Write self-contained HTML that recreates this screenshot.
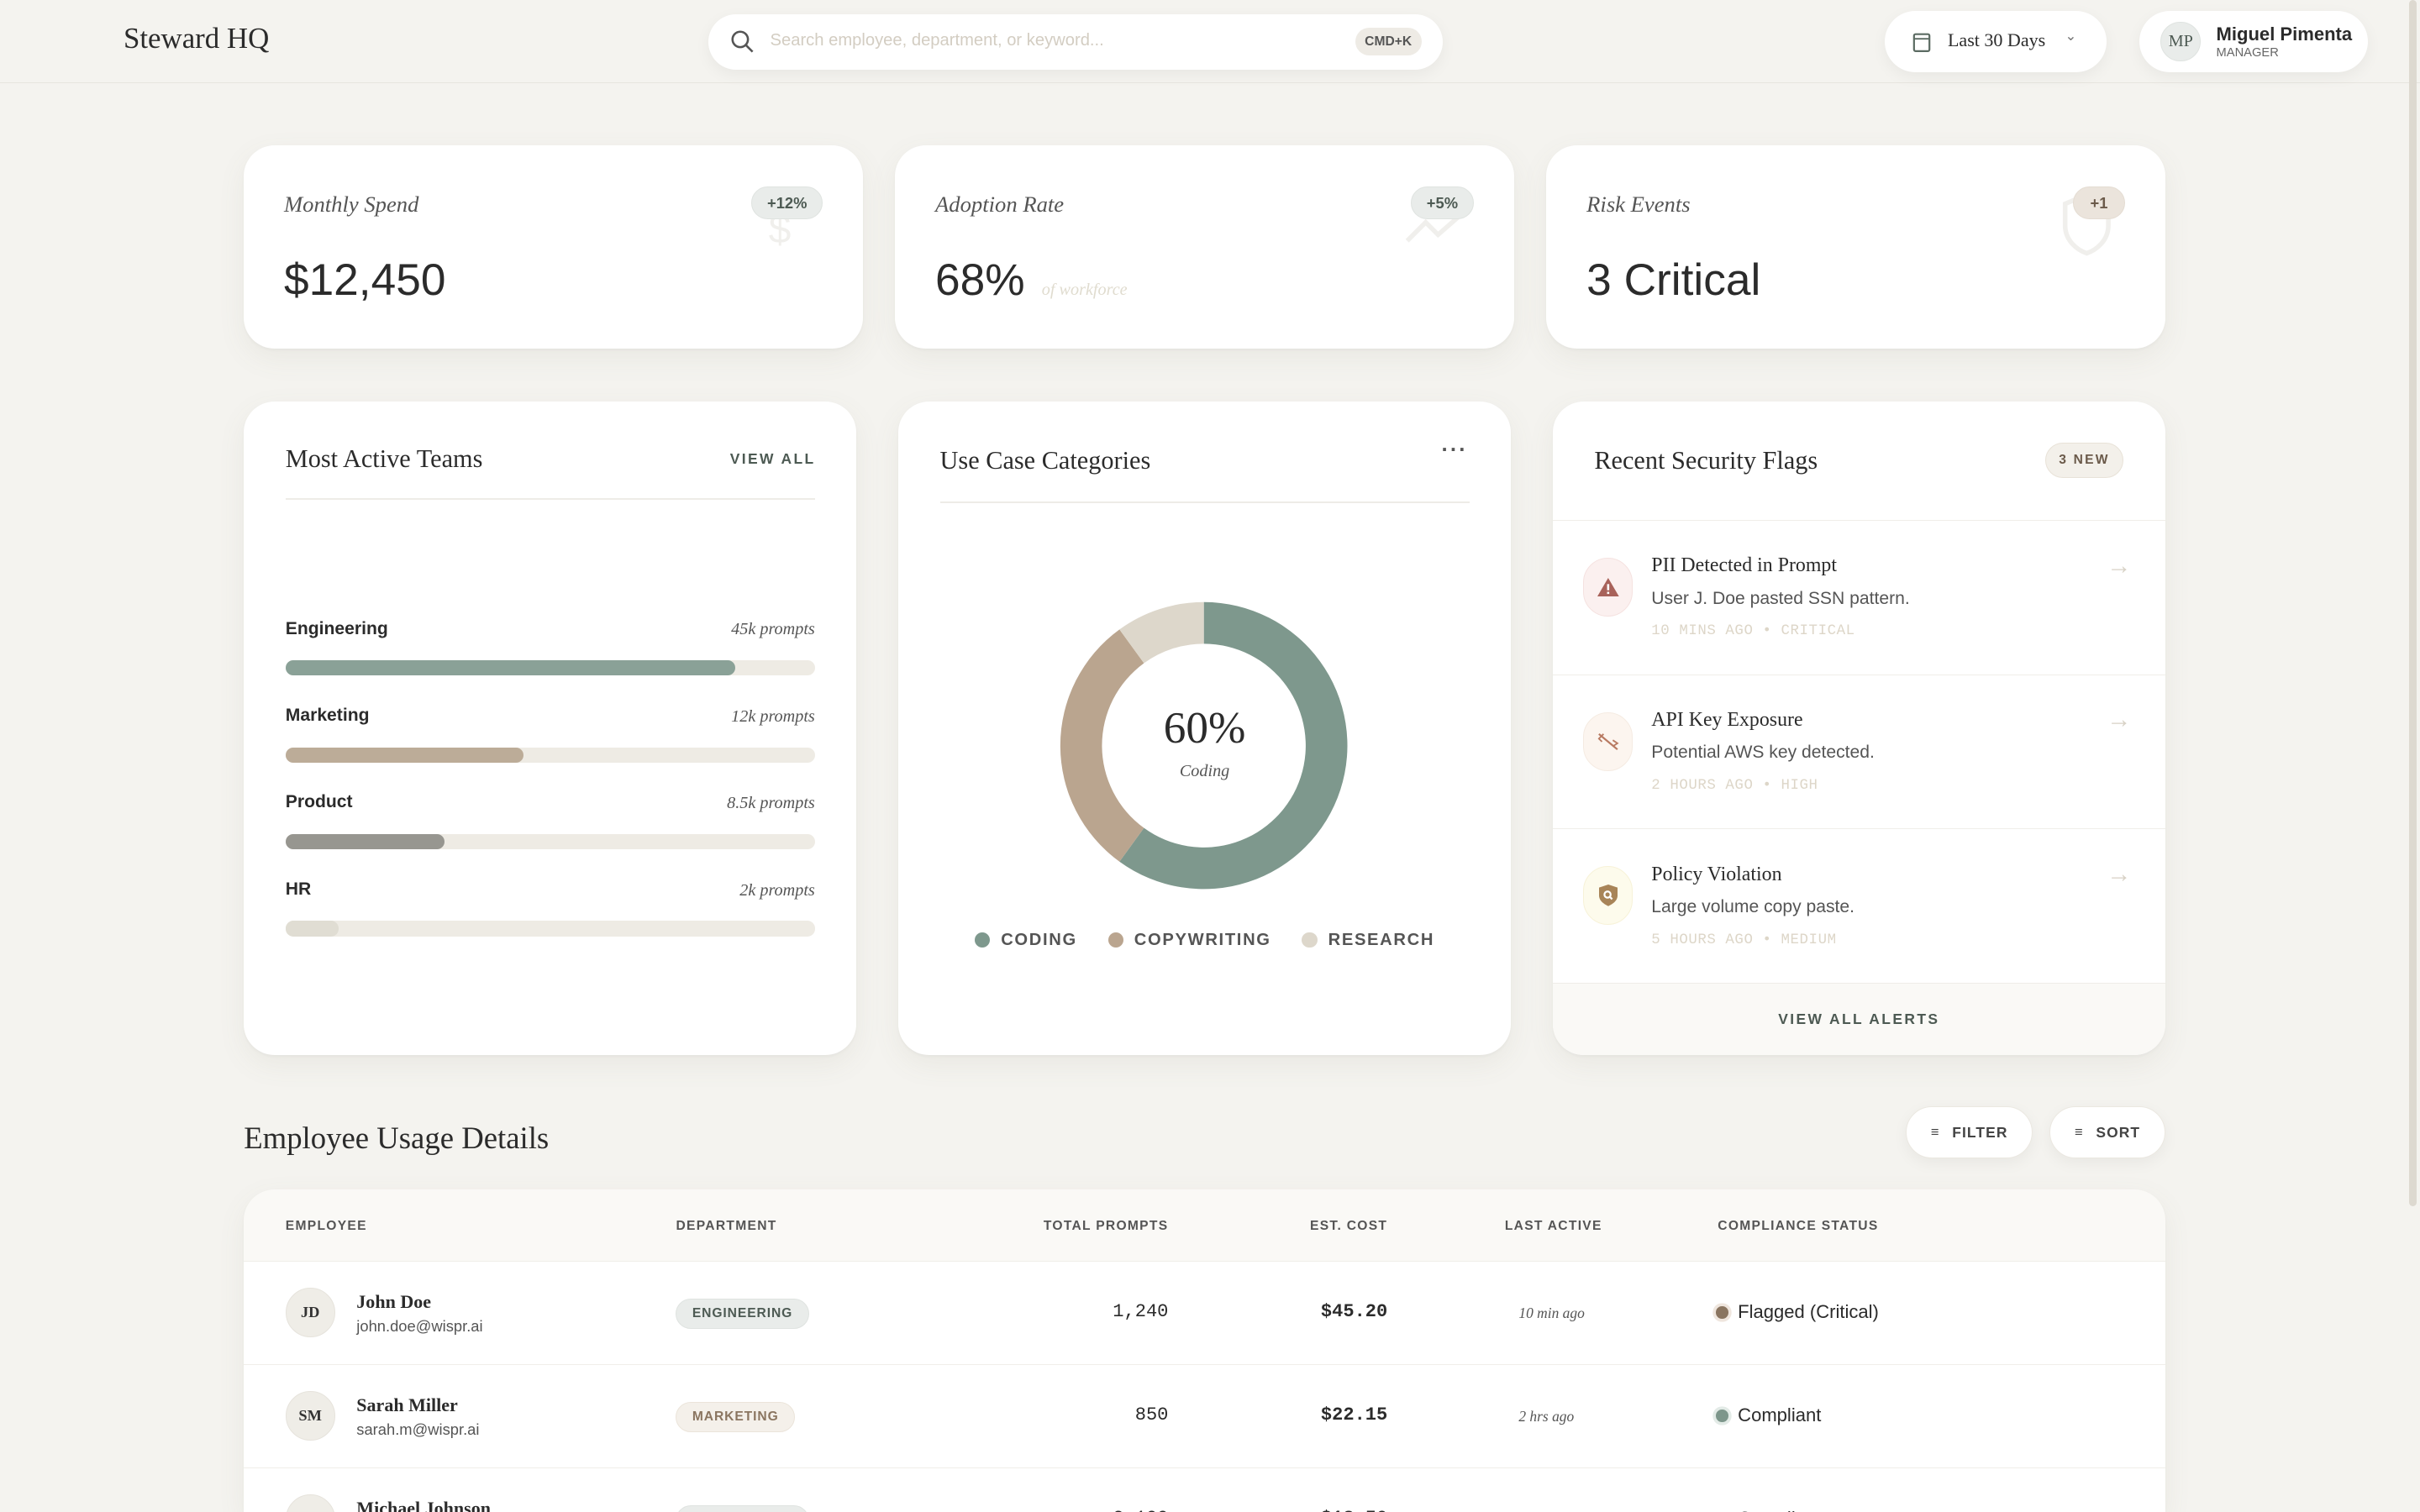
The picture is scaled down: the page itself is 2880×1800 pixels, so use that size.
<!DOCTYPE html>
<html><head><meta charset="utf-8"><style>
*{box-sizing:border-box;margin:0;padding:0}
html,body{width:2880px;height:1800px;overflow:hidden;background:#f4f3ef}
#root{width:1568px;height:980px;overflow:hidden;zoom:1.83674;position:relative;font-family:"Liberation Sans",sans-serif;color:#2b2b2b;background:#f4f3ef}
.abs{position:absolute}
.serif{font-family:"Liberation Serif",serif}
.mono{font-family:"Liberation Mono",monospace}
.card{position:absolute;background:#fff;border-radius:20px;box-shadow:0 6px 18px rgba(120,110,90,.08),0 1px 2px rgba(0,0,0,.03)}
.pill{position:absolute;background:#fff;border-radius:20px;box-shadow:0 3px 10px rgba(0,0,0,.05)}
.kl{position:absolute;left:26px;top:30px;font-style:italic;font-size:14.5px;color:#555}
.kv{position:absolute;left:26px;top:71px;font-size:29px;color:#2b2b2b;font-weight:300}
.badge{position:absolute;top:27px;height:21px;border-radius:11px;font-size:10px;font-weight:bold;color:#4d5a53;display:flex;align-items:center;justify-content:center;background:#e9ecea;border:1px solid #dfe3e0}
.ct{position:absolute;font-family:"Liberation Serif",serif;font-size:16.5px;color:#2b2b2b}
.th{position:absolute;top:790px;font-size:8.5px;letter-spacing:.7px;font-weight:bold;color:#555}
.row{position:absolute;left:158px;width:1245px;border-top:1px solid #f0eee9;height:67px;background:#fff;overflow:hidden}
.av{position:absolute;left:27px;top:17px;width:32px;height:32px;border-radius:50%;background:#efede7;border:1px solid #e6e3dc;font-family:"Liberation Serif",serif;font-size:10px;font-weight:bold;display:flex;align-items:center;justify-content:center;color:#333}
.nm{position:absolute;left:73px;top:19px;font-family:"Liberation Serif",serif;font-size:12px;font-weight:bold}
.em{position:absolute;left:73px;top:36px;font-size:10px;color:#555}
.dep{position:absolute;left:280px;top:24px;height:20px;border-radius:10px;font-size:8.5px;letter-spacing:.5px;font-weight:bold;display:flex;align-items:center;padding:0 10px}
.np{position:absolute;right:646px;top:26px;font-size:12px;font-family:"Liberation Mono",monospace}
.cost{position:absolute;right:504px;top:26px;font-size:12px;font-weight:bold;font-family:"Liberation Mono",monospace}
.la{position:absolute;left:826px;top:28px;font-size:9.5px;font-style:italic;font-family:"Liberation Serif",serif;color:#555}
.st{position:absolute;left:954px;top:26px;font-size:12px;display:flex;align-items:center;gap:6px}
.dot{width:8px;height:8px;border-radius:50%}
.fi{position:absolute;left:0;width:397px;height:100px;border-top:1px solid #f0eee9}
.ic{position:absolute;left:20px;top:24px;width:32px;height:38px;border-radius:16px;display:flex;align-items:center;justify-content:center}
.ft{position:absolute;left:64px;top:22px;font-family:"Liberation Serif",serif;font-size:13px}
.fd{position:absolute;left:64px;top:44px;font-size:11.5px;color:#555}
.fm{position:absolute;left:64px;top:66px;font-size:9.5px;color:#ddd6c8;letter-spacing:.3px;font-family:"Liberation Mono",monospace}
.arr{position:absolute;right:22px;top:20px;color:#d8d2c6;font-size:16px}
</style></head><body>
<div id="root">
<div class="abs" style="left:0;top:0;width:1568px;height:54px;border-bottom:1px solid #e7e5df"></div>
<div class="abs serif" style="left:80px;top:14px;font-size:19px;color:#2b2b2b">Steward HQ</div>
<div class="pill" style="left:459px;top:9px;width:476px;height:36px;border-radius:18px">
 <svg class="abs" style="left:14px;top:10px" width="16" height="16" viewBox="0 0 16 16"><circle cx="6.5" cy="6.5" r="5" fill="none" stroke="#555" stroke-width="1.4"/><line x1="10" y1="10" x2="14.5" y2="14.5" stroke="#555" stroke-width="1.4"/></svg>
 <div class="abs" style="left:40px;top:11px;font-size:11px;color:#d3cdc2">Search employee, department, or keyword...</div>
 <div class="abs" style="left:419px;top:9px;width:43px;height:18px;border-radius:9px;background:#eeebe5;font-size:8.5px;font-weight:bold;color:#555;display:flex;align-items:center;justify-content:center">CMD+K</div>
</div>
<div class="pill" style="left:1221px;top:7px;width:144px;height:40px">
 <svg class="abs" style="left:18px;top:13px" width="12" height="14" viewBox="0 0 12 14"><rect x="1" y="2" width="10" height="11" rx="1" fill="none" stroke="#5b6b62" stroke-width="1.2"/><line x1="1" y1="5" x2="11" y2="5" stroke="#5b6b62"/></svg>
 <div class="abs serif" style="left:41px;top:12px;font-size:12px">Last 30 Days</div>
 <div class="abs" style="left:117px;top:11px;font-size:9px;color:#777">&#8964;</div>
</div>
<div class="pill" style="left:1386px;top:7px;width:148px;height:40px">
 <div class="abs serif" style="left:14px;top:7px;width:26px;height:26px;border-radius:50%;background:#e9ecea;border:1px solid #dfe3e0;font-size:11px;color:#4d5a53;display:flex;align-items:center;justify-content:center">MP</div>
 <div class="abs" style="left:50px;top:8px;font-size:12px;font-weight:bold">Miguel Pimenta</div>
 <div class="abs" style="left:50px;top:23px;font-size:8px;color:#666">MANAGER</div>
</div>
<div class="abs" style="left:1561px;top:0;width:5px;height:782px;border-radius:3px;background:#ddd9d0"></div>

<div class="card" style="left:158px;top:94px;width:401px;height:132px">
 <div class="kl serif">Monthly Spend</div>
 <div class="abs" style="left:340px;top:40px;font-size:26px;color:#f0efec">$</div>
 <div class="badge" style="left:329px;width:46px">+12%</div>
 <div class="kv">$12,450</div>
</div>
<div class="card" style="left:580px;top:94px;width:401px;height:132px">
 <div class="kl serif">Adoption Rate</div>
 <svg class="abs" style="left:330px;top:42px" width="40" height="22"><polyline points="2,20 14,8 22,16 38,2" fill="none" stroke="#f0efec" stroke-width="3"/></svg>
 <div class="badge" style="left:334px;width:41px">+5%</div>
 <div class="kv">68%</div>
 <div class="abs serif" style="left:95px;top:88px;font-size:11px;font-style:italic;color:#e0dccf">of workforce</div>
</div>
<div class="card" style="left:1002px;top:94px;width:401px;height:132px">
 <div class="kl serif">Risk Events</div>
 <svg class="abs" style="left:334px;top:30px" width="32" height="42"><path d="M16 2 L30 8 V22 C30 32 22 38 16 40 C10 38 2 32 2 22 V8 Z" fill="none" stroke="#f0efec" stroke-width="3"/></svg>
 <div class="badge" style="left:341px;width:34px;background:#ebe4dc;border-color:#e4dcd2;color:#6b5a4a">+1</div>
 <div class="kv">3 Critical</div>
</div>

<div class="card" style="left:158px;top:260px;width:397px;height:424px">
 <div class="ct" style="left:27px;top:28px">Most Active Teams</div>
 <div class="abs" style="left:315px;top:32px;font-size:9.5px;font-weight:bold;letter-spacing:1.3px;color:#4d5a53">VIEW ALL</div>
 <div class="abs" style="left:27px;top:63px;width:343px;height:1px;background:#eeece7"></div>
 <div id="teams"></div>
</div>

<div class="card" style="left:582px;top:260px;width:397px;height:424px">
 <div class="ct" style="left:27px;top:29px">Use Case Categories</div>
 <div class="abs" style="left:352px;top:24px;font-size:14px;font-weight:bold;color:#555;letter-spacing:1px">&middot;&middot;&middot;</div>
 <div class="abs" style="left:27px;top:65px;width:343px;height:1px;background:#eeece7"></div>
 <svg id="donut" class="abs" style="left:0;top:0" width="397" height="424"></svg>
 <div class="abs serif" style="left:0;width:397px;text-align:center;top:195px;font-size:29px">60%</div>
 <div class="abs serif" style="left:0;width:397px;text-align:center;top:234px;font-size:11px;font-style:italic;color:#555">Coding</div>
 <div id="legend" class="abs" style="left:0;width:397px;top:343px;display:flex;justify-content:center;gap:20px"></div>
</div>

<div class="card" style="left:1006px;top:260px;width:397px;height:424px;overflow:hidden">
 <div class="ct" style="left:27px;top:29px">Recent Security Flags</div>
 <div class="abs" style="left:319px;top:27px;width:51px;height:23px;border-radius:12px;background:#f3f0ea;border:1px solid #e8e2d8;font-size:8.5px;font-weight:bold;letter-spacing:1.2px;color:#6b5a4a;display:flex;align-items:center;justify-content:center">3 NEW</div>
 <div class="fi" style="top:77px">
  <div class="ic" style="background:#fbf0ef;border:1px solid #f5e2e0"><svg width="14" height="12"><polygon points="7,0 14,12 0,12" fill="#a8625a"/><rect x="6.3" y="4" width="1.4" height="4" fill="#fff"/><rect x="6.3" y="9" width="1.4" height="1.4" fill="#fff"/></svg></div>
  <div class="ft">PII Detected in Prompt</div>
  <div class="fd">User J. Doe pasted SSN pattern.</div>
  <div class="fm">10 MINS AGO • CRITICAL</div>
  <div class="arr">&rarr;</div>
 </div>
 <div class="fi" style="top:177px">
  <div class="ic" style="background:#fcf5ef;border:1px solid #f5ebe2"><svg width="14" height="12"><line x1="1" y1="1" x2="13" y2="11" stroke="#b87a62" stroke-width="1.2"/><polyline points="4,1 1,4 3,6" fill="none" stroke="#b87a62"/><polyline points="10,5 13,7 10,9" fill="none" stroke="#b87a62"/></svg></div>
  <div class="ft">API Key Exposure</div>
  <div class="fd">Potential AWS key detected.</div>
  <div class="fm">2 HOURS AGO • HIGH</div>
  <div class="arr">&rarr;</div>
 </div>
 <div class="fi" style="top:277px">
  <div class="ic" style="background:#fdfbec;border:1px solid #f7f2d8"><svg width="12" height="14"><path d="M6 0 L12 2 V7 C12 11 8 13 6 14 C4 13 0 11 0 7 V2 Z" fill="#a88458"/><circle cx="5.5" cy="6.5" r="2" fill="none" stroke="#fff" stroke-width="1.2"/><line x1="7" y1="8" x2="8.5" y2="9.5" stroke="#fff" stroke-width="1.2"/></svg></div>
  <div class="ft">Policy Violation</div>
  <div class="fd">Large volume copy paste.</div>
  <div class="fm">5 HOURS AGO • MEDIUM</div>
  <div class="arr">&rarr;</div>
 </div>
 <div class="abs" style="left:0;top:377px;width:397px;height:47px;background:#faf9f6;border-top:1px solid #efede8;font-size:9.5px;font-weight:bold;letter-spacing:1.3px;color:#4d5a53;display:flex;align-items:center;justify-content:center">VIEW ALL ALERTS</div>
</div>

<div class="abs serif" style="left:158px;top:726px;font-size:20px">Employee Usage Details</div>
<div class="pill" style="left:1235px;top:717px;width:82px;height:34px;border:1px solid #ebe8e1;font-size:9.5px;font-weight:bold;letter-spacing:.6px;color:#444;display:flex;align-items:center;justify-content:center;gap:8px"><span style="font-size:9px">&#8801;</span>FILTER</div>
<div class="pill" style="left:1328px;top:717px;width:75px;height:34px;border:1px solid #ebe8e1;font-size:9.5px;font-weight:bold;letter-spacing:.6px;color:#444;display:flex;align-items:center;justify-content:center;gap:8px"><span style="font-size:9px">&#8801;</span>SORT</div>
<div class="card" style="left:158px;top:771px;width:1245px;height:209px;border-radius:20px 20px 0 0;background:#faf9f6"></div>
<div class="th" style="left:185px">EMPLOYEE</div>
<div class="th" style="left:438px">DEPARTMENT</div>
<div class="th" style="right:811px">TOTAL PROMPTS</div>
<div class="th" style="right:669px">EST. COST</div>
<div class="th" style="left:975px">LAST ACTIVE</div>
<div class="th" style="left:1113px">COMPLIANCE STATUS</div>

<div class="row" style="top:817px">
 <div class="av">JD</div><div class="nm">John Doe</div><div class="em">john.doe@wispr.ai</div>
 <div class="dep" style="background:#e9ecea;border:1px solid #dfe3e0;color:#4d5a53">ENGINEERING</div>
 <div class="np">1,240</div><div class="cost">$45.20</div>
 <div class="la">10 min ago</div>
 <div class="st"><span class="dot" style="background:#8a7560;box-shadow:0 0 0 2px #efe6de"></span>Flagged (Critical)</div>
</div>
<div class="row" style="top:884px">
 <div class="av">SM</div><div class="nm">Sarah Miller</div><div class="em">sarah.m@wispr.ai</div>
 <div class="dep" style="background:#f4f0ea;border:1px solid #ebe4da;color:#8a7560">MARKETING</div>
 <div class="np">850</div><div class="cost">$22.15</div>
 <div class="la">2 hrs ago</div>
 <div class="st"><span class="dot" style="background:#7d968b;box-shadow:0 0 0 2px #e3ebe7"></span>Compliant</div>
</div>
<div class="row" style="top:951px;height:29px">
 <div class="av">MJ</div><div class="nm">Michael Johnson</div>
 <div class="dep" style="background:#e9ecea;border:1px solid #dfe3e0;color:#4d5a53">ENGINEERING</div>
 <div class="np">2,100</div><div class="cost">$18.50</div>
 <div class="st"><span class="dot" style="background:#7d968b"></span>Compliant</div>
</div>
</div>
<script>
const teamNames = ["Engineering", "Marketing", "Product", "HR"];
const teamPrompts = ["45k prompts", "12k prompts", "8.5k prompts", "2k prompts"];
const teamShare = [85, 45, 30, 10];
const teamColors = ["#8aa197", "#bcac98", "#979690", "#e0ddd3"];
const catNames = ["CODING", "COPYWRITING", "RESEARCH"];
const catValues = [60, 30, 10];
const catColors = ["#7e988d", "#baa58f", "#ddd7cb"];

const teams = document.getElementById('teams');
const trackW = 343;
function xScale(v){ return v / 100 * trackW; }
teamNames.forEach((n, i) => {
  const top = 141 + i * 56.3;
  const lab = document.createElement('div');
  
  
  lab.style.cssText = `position:absolute;left:27px;top:${top}px;font-size:11.5px;font-weight:bold`;
  lab.textContent = n;
  teams.appendChild(lab);
  const val = document.createElement('div');
  
  
  val.style.cssText = `position:absolute;right:27px;top:${top+1}px;font-size:11px;font-style:italic;font-family:"Liberation Serif",serif;color:#555`;
  val.textContent = teamPrompts[i];
  teams.appendChild(val);
  const tr = document.createElement('div');
  
  
  tr.style.cssText = `position:absolute;left:27px;top:${top+27}px;width:${trackW}px;height:10px;border-radius:5px;background:#eeebe4`;
  const f = document.createElement('div');
  
  
  f.style.cssText = `width:${xScale(teamShare[i])}px;height:10px;border-radius:5px;background:${teamColors[i]}`;
  tr.appendChild(f);
  teams.appendChild(tr);
});

const svg = document.getElementById('donut');
const NS = 'http://www.w3.org/2000/svg';
const cx = 198, cy = 223, R = 93, r = 66;
const total = catValues.reduce((a, b) => a + b, 0);
function ang(v){ return v / total * Math.PI * 2; }
function pt(a, rad){ return [cx + rad * Math.sin(a), cy - rad * Math.cos(a)]; }
let acc = 0;
catValues.forEach((v, i) => {
  const a0 = ang(acc), a1 = ang(acc + v); acc += v;
  const large = a1 - a0 > Math.PI ? 1 : 0;
  const [x0, y0] = pt(a0, R), [x1, y1] = pt(a1, R), [x2, y2] = pt(a1, r), [x3, y3] = pt(a0, r);
  const p = document.createElementNS(NS, 'path');
  
  
  p.setAttribute('d', `M${x0},${y0} A${R},${R} 0 ${large} 1 ${x1},${y1} L${x2},${y2} A${r},${r} 0 ${large} 0 ${x3},${y3} Z`);
  p.setAttribute('fill', catColors[i]);
  svg.appendChild(p);
});
const lg = document.getElementById('legend');
catNames.forEach((n, i) => {
  const e = document.createElement('div');
  
  
  e.style.cssText = 'display:flex;align-items:center;gap:7px;font-size:11px;font-weight:bold;letter-spacing:.9px;color:#555';
  e.innerHTML = `<span style="width:10px;height:10px;border-radius:50%;background:${catColors[i]}"></span>${n}`;
  lg.appendChild(e);
});
</script>
</body></html>
